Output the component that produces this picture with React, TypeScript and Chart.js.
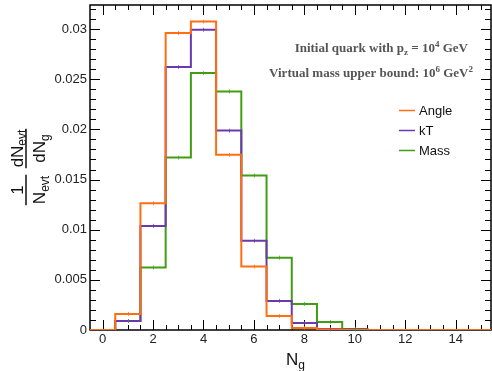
import React, { useEffect, useRef } from 'react';
import { Chart, registerables } from 'chart.js';

Chart.register(...registerables);

// ---- data ----
const binCenters = [0, 1, 2, 3, 4, 5, 6, 7, 8, 9, 10, 11, 12, 13, 14, 15];
const angleValues = [0, 0.0016, 0.01264, 0.0296, 0.03076, 0.01746, 0.00632, 0.0014, 0.0002, 0.00005, 0, 0, 0, 0, 0, 0];
const ktValues = [0, 0.0009, 0.01038, 0.02621, 0.02993, 0.01988, 0.0089, 0.0029, 0.0007, 0.0001, 0.00005, 0, 0, 0, 0, 0];
const massValues = [0, 0.0009, 0.00622, 0.01719, 0.02561, 0.02378, 0.0154, 0.00721, 0.0026, 0.0008, 0.0001, 0, 0, 0, 0, 0];
const seriesNames = ['Angle', 'kT', 'Mass'];
const seriesColors = ['#ff6f12', '#6a3aad', '#3f9e14'];

const xTickValues = [0, 2, 4, 6, 8, 10, 12, 14];
const xTickLabels = ['0', '2', '4', '6', '8', '10', '12', '14'];
const yTickValues = [0, 0.005, 0.01, 0.015, 0.02, 0.025, 0.03];
const yTickLabels = ['0', '0.005', '0.01', '0.015', '0.02', '0.025', '0.03'];

type Seg = { t: string; s?: 'sub' | 'sup' };
const note1: Seg[] = [{ t: 'Initial quark with p' }, { t: 'z', s: 'sub' }, { t: ' = 10' }, { t: '4', s: 'sup' }, { t: ' GeV' }];
const note2: Seg[] = [{ t: 'Virtual mass upper bound: 10' }, { t: '6', s: 'sup' }, { t: ' GeV' }, { t: '2', s: 'sup' }];
const xTitle: Seg[] = [{ t: 'N' }, { t: 'g', s: 'sub' }];
const yNum1: Seg[] = [{ t: 'dN' }, { t: 'evt', s: 'sub' }];
const yDen1: Seg[] = [{ t: 'dN' }, { t: 'g', s: 'sub' }];
const yNum2: Seg[] = [{ t: '1' }];
const yDen2: Seg[] = [{ t: 'N' }, { t: 'evt', s: 'sub' }];

function histPoints(values: number[]) {
  const pts = values.map((v, i) => ({ x: binCenters[i] - 0.5, y: v }));
  pts.push({ x: binCenters[binCenters.length - 1] + 0.5, y: values[values.length - 1] });
  return pts;
}

function richWidth(ctx: CanvasRenderingContext2D, segs: Seg[], size: number, fam: string, weight: string, subSize: number) {
  let w = 0;
  for (const sg of segs) {
    ctx.font = `${weight} ${sg.s ? subSize : size}px ${fam}`;
    w += ctx.measureText(sg.t).width;
  }
  return w;
}

function drawRich(ctx: CanvasRenderingContext2D, segs: Seg[], x: number, y: number, size: number, fam: string, weight: string, color: string, subSize: number, subOff: number, supOff: number) {
  ctx.fillStyle = color;
  ctx.textBaseline = 'alphabetic';
  ctx.textAlign = 'left';
  let cx = x;
  for (const sg of segs) {
    ctx.font = `${weight} ${sg.s ? subSize : size}px ${fam}`;
    const dy = sg.s === 'sub' ? subOff : sg.s === 'sup' ? -supOff : 0;
    ctx.fillText(sg.t, cx, y + dy);
    cx += ctx.measureText(sg.t).width;
  }
}

const framePlugin = {
  id: 'rootFrame',
  beforeDatasetsDraw(chart: any) {
    const { ctx, chartArea: a, scales } = chart;
    const xs = scales.x;
    const ys = scales.y;
    ctx.save();
    ctx.strokeStyle = '#000';
    ctx.lineWidth = 1;
    for (let v = -0.5; v <= 15.5; v += 0.5) {
      const px = Math.round(xs.getPixelForValue(v)) + 0.5;
      if (px < a.left + 1 || px > a.right - 1) continue;
      const major = xTickValues.includes(v);
      const len = major ? 10 : 5;
      ctx.beginPath();
      ctx.moveTo(px, a.bottom);
      ctx.lineTo(px, a.bottom - len);
      ctx.moveTo(px, a.top);
      ctx.lineTo(px, a.top + len);
      ctx.stroke();
    }
    for (let k = 0; k <= 33; k++) {
      const v = k * 0.001;
      const py = Math.round(ys.getPixelForValue(v)) + 0.5;
      if (py < a.top + 1 || py > a.bottom - 1) continue;
      const major = k % 5 === 0;
      const len = major ? 10 : 6;
      ctx.beginPath();
      ctx.moveTo(a.left, py);
      ctx.lineTo(a.left + len, py);
      ctx.moveTo(a.right, py);
      ctx.lineTo(a.right - len, py);
      ctx.stroke();
    }
    ctx.lineWidth = 1.5;
    ctx.strokeRect(a.left, a.top, a.right - a.left, a.bottom - a.top);
    ctx.restore();
  },
  afterDatasetsDraw(chart: any) {
    const { ctx, scales } = chart;
    const xs = scales.x;
    const ys = scales.y;
    ctx.save();
    chart.data.datasets.forEach((ds: any, di: number) => {
      const vals = [angleValues, ktValues, massValues][di];
      ctx.strokeStyle = ds.borderColor;
      ctx.globalAlpha = 0.7;
      ctx.lineWidth = 1;
      vals.forEach((v, i) => {
        if (v <= 0) return;
        const px = Math.round(xs.getPixelForValue(binCenters[i])) + 0.5;
        const py = ys.getPixelForValue(v);
        ctx.beginPath();
        ctx.moveTo(px, py - 2);
        ctx.lineTo(px, py + 2);
        ctx.stroke();
      });
    });
    ctx.restore();
  },
  afterDraw(chart: any) {
    const { ctx } = chart;
    ctx.save();
    const serif = '"Liberation Serif", "Times New Roman", serif';
    const sans = '"Liberation Sans", Arial, sans-serif';
    const w1 = richWidth(ctx, note1, 13, serif, 'bold', 9);
    drawRich(ctx, note1, 468 - w1, 52, 13, serif, 'bold', '#555', 9, 3, 5);
    const w2 = richWidth(ctx, note2, 13, serif, 'bold', 9);
    drawRich(ctx, note2, 473 - w2, 77, 13, serif, 'bold', '#555', 9, 3, 5);

    const rows = [110.5, 130.5, 150.5];
    chart.data.datasets.forEach((ds: any, i: number) => {
      ctx.strokeStyle = ds.borderColor;
      ctx.lineWidth = 1.5;
      ctx.beginPath();
      ctx.moveTo(399, rows[i]);
      ctx.lineTo(415, rows[i]);
      ctx.stroke();
      ctx.fillStyle = '#111';
      ctx.font = `13px ${sans}`;
      ctx.textAlign = 'left';
      ctx.textBaseline = 'middle';
      ctx.fillText(ds.label, 419, rows[i] + 1);
    });

    drawRich(ctx, xTitle, 286, 365, 17, sans, 'normal', '#111', 12, 4, 0);

    const drawFrac = (num: Seg[], den: Seg[], cy: number) => {
      ctx.save();
      ctx.translate(26, cy);
      ctx.rotate(-Math.PI / 2);
      const wn = richWidth(ctx, num, 17, sans, 'normal', 12);
      const wd = richWidth(ctx, den, 17, sans, 'normal', 12);
      const w = Math.max(wn, wd) + 2;
      ctx.strokeStyle = '#111';
      ctx.lineWidth = 1.5;
      ctx.beginPath();
      ctx.moveTo(-w / 2, 0);
      ctx.lineTo(w / 2, 0);
      ctx.stroke();
      drawRich(ctx, num, -wn / 2, -3, 17, sans, 'normal', '#111', 12, 3, 0);
      drawRich(ctx, den, -wd / 2, 18.5, 17, sans, 'normal', '#111', 12, 4, 0);
      ctx.restore();
    };
    drawFrac(yNum1, yDen1, 148.5);
    drawFrac(yNum2, yDen2, 190);
    ctx.restore();
  },
};

export default function App() {
  const ref = useRef<HTMLCanvasElement | null>(null);
  useEffect(() => {
    document.body.style.margin = '0';
    const canvas = ref.current;
    if (!canvas) return;
    Chart.defaults.font.family = '"Liberation Sans", Arial, sans-serif';
    const allValues = [angleValues, ktValues, massValues];
    const chart = new Chart(canvas, {
      type: 'line',
      data: {
        datasets: allValues.map((vals, i) => ({
          label: seriesNames[i],
          data: histPoints(vals),
          borderColor: seriesColors[i],
          backgroundColor: seriesColors[i],
          borderWidth: 2,
          pointRadius: 0,
          stepped: true,
          fill: false,
          tension: 0,
        })),
      },
      options: {
        animation: false,
        responsive: false,
        maintainAspectRatio: false,
        layout: { padding: { top: 5, right: 1, left: 0, bottom: 0 } },
        plugins: { legend: { display: false }, tooltip: { enabled: false }, title: { display: false } },
        scales: {
          x: {
            type: 'linear',
            min: -0.5,
            max: 15.4,
            grid: { display: false, drawTicks: false },
            border: { display: false },
            ticks: {
              autoSkip: false,
              maxRotation: 0,
              padding: 2,
              color: '#222',
              font: { size: 13 },
              callback: (_v: any, idx: number) => xTickLabels[idx],
            },
            afterBuildTicks: (s: any) => {
              s.ticks = xTickValues.map((v) => ({ value: v }));
            },
            afterFit: (s: any) => {
              s.height = 41;
              s.paddingLeft = 0;
              s.paddingRight = 0;
            },
          },
          y: {
            type: 'linear',
            min: 0,
            max: 0.0324,
            grid: { display: false, drawTicks: false },
            border: { display: false },
            ticks: {
              autoSkip: false,
              padding: 3,
              color: '#222',
              font: { size: 13 },
              callback: (_v: any, idx: number) => yTickLabels[idx],
            },
            afterBuildTicks: (s: any) => {
              s.ticks = yTickValues.map((v) => ({ value: v }));
            },
            afterFit: (s: any) => {
              s.width = 90;
              s.paddingTop = 0;
              s.paddingBottom = 0;
            },
          },
        },
      },
      plugins: [framePlugin],
    } as any);
    return () => chart.destroy();
  }, []);
  return (
    <div style={{ width: 492, height: 371 }}>
      <canvas ref={ref} width={492} height={371} style={{ display: 'block' }} />
    </div>
  );
}
